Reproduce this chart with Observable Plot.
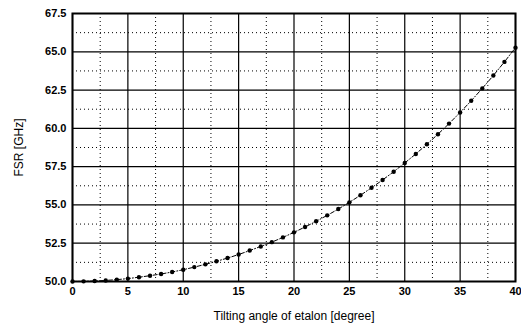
<!DOCTYPE html>
<html><head><meta charset="utf-8">
<script src="https://cdn.jsdelivr.net/npm/d3@7"></script>
<script src="https://cdn.jsdelivr.net/npm/@observablehq/plot@0.6"></script>
<style>
html,body{margin:0;padding:0;background:#fff;}
svg{font-family:"Liberation Sans",Arial,sans-serif;}
g[aria-label$="axis label"]{font-weight:normal !important;font-size:12px !important;fill:#000 !important;}
g[aria-label$="axis label"] text{font-weight:normal !important;fill:#000 !important;}
</style></head>
<body><div id="chart"></div>
<script>
const angles = [0,1,2,3,4,5,6,7,8,9,10,11,12,13,14,15,16,17,18,19,20,21,22,23,24,25,26,27,28,29,30,31,32,33,34,35,36,37,38,39,40];
const fsr = [50.00,50.01,50.03,50.07,50.12,50.19,50.28,50.38,50.49,50.62,50.77,50.94,51.12,51.32,51.53,51.76,52.02,52.29,52.57,52.88,53.21,53.56,53.93,54.32,54.73,55.17,55.63,56.12,56.63,57.17,57.74,58.33,58.96,59.62,60.31,61.04,61.80,62.61,63.45,64.34,65.27];
const xMajor = [0,5,10,15,20,25,30,35,40];
const xMinor = [2.5,7.5,12.5,17.5,22.5,27.5,32.5,37.5];
const yMajor = [50,52.5,55,57.5,60,62.5,65,67.5];
const yMinor = [51.25,53.75,56.25,58.75,61.25,63.75,66.25];
const data = angles.map((a,i)=>({a, f: fsr[i]}));

const chart = Plot.plot({
  width: 521, height: 335,
  marginLeft: 72, marginRight: 6, marginTop: 13, marginBottom: 54,
  style: {fontSize: "11px", fontFamily: "Liberation Sans, Arial, sans-serif", color: "#000"},
  x: {domain: [0,40], label: null},
  y: {domain: [50,67.5], label: null},
  marks: [
    Plot.ruleX(xMinor, {stroke: "#000", strokeWidth: 1, strokeDasharray: "1,3"}),
    Plot.ruleY(yMinor, {stroke: "#000", strokeWidth: 1, strokeDasharray: "1,3"}),
    Plot.ruleX(xMajor, {stroke: "#000", strokeWidth: 1.2}),
    Plot.ruleY(yMajor, {stroke: "#000", strokeWidth: 1.2}),
    Plot.frame({stroke: "#000", strokeWidth: 2}),
    Plot.line(data, {x: "a", y: "f", stroke: "#000", strokeWidth: 1, strokeDasharray: "4,2,1,2"}),
    Plot.dot(data, {x: "a", y: "f", r: 2.2, fill: "#000", stroke: "none"}),
    Plot.axisX(xMajor, {tickSize: 0, tickPadding: 6, tickFormat: d => d, fontWeight: "bold", fontSize: 11, fill: "#000", label: null}),
    Plot.axisY(yMajor, {tickSize: 0, tickPadding: 6, tickFormat: d => d.toFixed(1), fontWeight: "bold", fontSize: 11, fill: "#000", label: null}),
    Plot.axisX({ticks: [], label: "Tilting angle of etalon [degree]", labelAnchor: "center", labelArrow: "none", labelOffset: 38, fontSize: 12, fill: "#000"}),
    Plot.axisY({ticks: [], label: "FSR [GHz]", labelAnchor: "center", labelArrow: "none", labelOffset: 58, fontSize: 12, fill: "#000"})
  ]
});
document.getElementById("chart").appendChild(chart);
</script></body></html>
